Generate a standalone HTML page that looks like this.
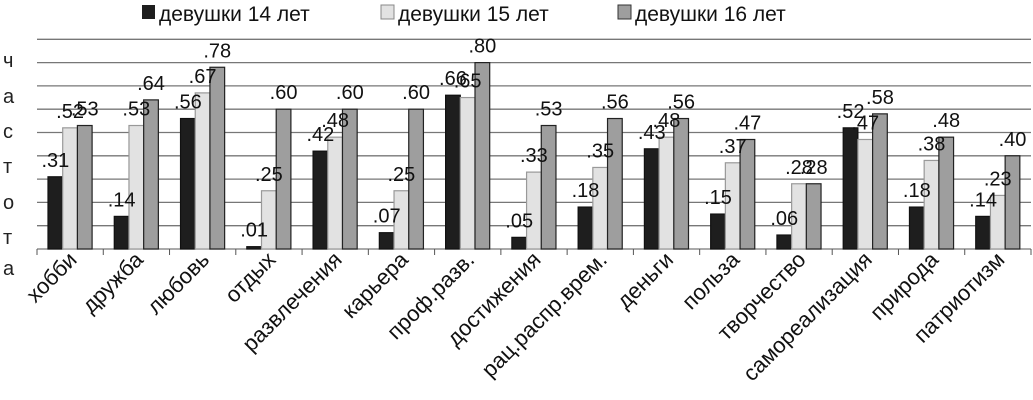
<!DOCTYPE html>
<html><head><meta charset="utf-8"><style>
html,body{margin:0;padding:0;background:#fff;}
svg{display:block;font-family:"Liberation Sans","DejaVu Sans",sans-serif;}
</style></head><body>
<svg id="chart" width="1033" height="400" viewBox="0 0 1033 400" xmlns="http://www.w3.org/2000/svg">
<g id="grid"></g>
<g id="bars"></g>
<g id="labels"></g>
<g id="xaxis"></g>
<g font-size="20" fill="#222">
<text x="3" y="67">ч</text><text x="3" y="103">а</text><text x="3" y="138">с</text><text x="3" y="173">т</text><text x="3" y="209">о</text><text x="3" y="244">т</text><text x="3" y="275">а</text>
</g>
<g font-size="21" fill="#111">
<g><rect x="142" y="5" width="13" height="14" fill="#1e1e1e"/><text x="159" y="21">девушки 14 лет</text></g>
<g><rect x="381" y="5" width="13" height="14" fill="#e2e2e2" stroke="#888"/><text x="398" y="21">девушки 15 лет</text></g>
<g><rect x="618" y="5" width="13" height="14" fill="#9e9e9e" stroke="#333"/><text x="635" y="21">девушки 16 лет</text></g>
</g>
</svg>
<script>
const categories = ["хобби","дружба","любовь","отдых","развлечения","карьера","проф.разв.","достижения","рац.распр.врем.","деньги","польза","творчество","самореализация","природа","патриотизм"];
const series14 = [0.31,0.14,0.56,0.01,0.42,0.07,0.66,0.05,0.18,0.43,0.15,0.06,0.52,0.18,0.14];
const series15 = [0.52,0.53,0.67,0.25,0.48,0.25,0.65,0.33,0.35,0.48,0.37,0.28,0.47,0.38,0.23];
const series16 = [0.53,0.64,0.78,0.60,0.60,0.60,0.80,0.53,0.56,0.56,0.47,0.28,0.58,0.48,0.40];
const yTicks = [0,0.1,0.2,0.3,0.4,0.5,0.6,0.7,0.8,0.9];
const labels14 = [".31",".14",".56",".01",".42",".07",".66",".05",".18",".43",".15",".06",".52",".18",".14"];
const labels15 = [".52",".53",".67",".25",".48",".25",".65",".33",".35",".48",".37",".28",".47",".38",".23"];
const labels16 = [".53",".64",".78",".60",".60",".60",".80",".53",".56",".56",".47",".28",".58",".48",".40"];

const NS="http://www.w3.org/2000/svg";
const x0=37, x1=1031, base=249, unit=233;
const cw=(x1-x0)/categories.length;
function y(v){return base-v*unit;}
function xc(i){return x0+i*cw;}
function mk(tag,attrs,parent){const e=document.createElementNS(NS,tag);for(const k in attrs)e.setAttribute(k,attrs[k]);parent.appendChild(e);return e;}
const grid=document.getElementById('grid'),bars=document.getElementById('bars'),lab=document.getElementById('labels'),xa=document.getElementById('xaxis');
yTicks.forEach((t)=>{
  const l=mk('line',{x1:x0,x2:x1,y1:y(t),y2:y(t),stroke:'#777','stroke-width':1.3},grid);
  
  
});
const sets=[[series14,labels14,'#1e1e1e','#111'],[series15,labels15,'#e2e2e2','#999'],[series16,labels16,'#9e9e9e','#222']];
const bw=14.7, off=11;
categories.forEach((c,i)=>{
  sets.forEach((s,j)=>{
    const v=s[0][i], bx=xc(i)+off+j*bw;
    const r=mk('rect',{x:bx,y:y(v),width:bw,height:base-y(v),fill:s[2],stroke:s[3],'stroke-width':1.2},bars);
    
    
    const t=mk('text',{x:bx+bw/2,y:y(v)-10,'text-anchor':'middle','font-size':20,fill:'#111'},lab);
    t.textContent=s[1][i];
    
    
  });
  const tk=mk('line',{x1:xc(i),x2:xc(i),y1:base,y2:base+6,stroke:'#555'},xa);
  
  
  const cx=xc(i)+cw/2+8, cy=base+12;
  const t=mk('text',{x:cx,y:cy,'text-anchor':'end','font-size':22,fill:'#111',transform:'rotate(-45 '+cx+' '+cy+')'},xa);
  t.textContent=c;
  
  
});
const tk=mk('line',{x1:x1,x2:x1,y1:base,y2:base+6,stroke:'#555'},xa);


</script>
</body></html>
